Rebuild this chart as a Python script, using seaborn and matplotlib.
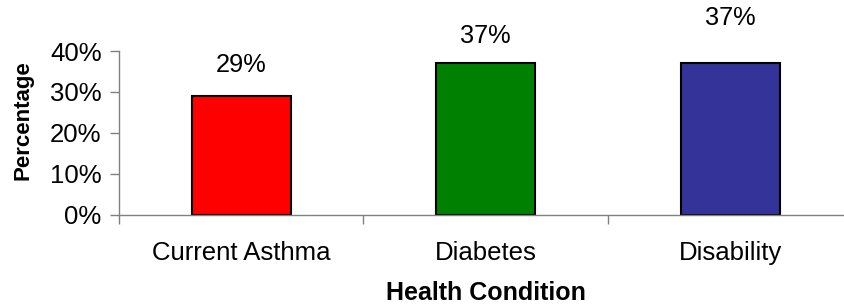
import numpy as np
import pandas as pd
import matplotlib
matplotlib.use("Agg")
import matplotlib.pyplot as plt
import seaborn as sns
from matplotlib.ticker import PercentFormatter, FixedLocator

# chart data
conditions = ["Current Asthma", "Diabetes", "Disability"]
percentages = [29, 37, 37]
bar_colors = ["#FF0000", "#008000", "#333399"]
yticks = [0, 10, 20, 30, 40]

sns.set_style("white")
plt.rcParams["font.family"] = ["Liberation Sans", "DejaVu Sans"]
plt.rcParams["text.color"] = "black"
plt.rcParams["xtick.color"] = "black"
plt.rcParams["ytick.color"] = "black"
plt.rcParams["axes.labelcolor"] = "black"

df = pd.DataFrame({"condition": conditions, "pct": percentages})

fig = plt.figure(figsize=(8.44, 3.07), dpi=100)
# the plot area runs past the right edge of the picture, as in the source
ax = fig.add_axes([0.141, 0.301, 0.869, 0.5326])

sns.barplot(data=df, x="condition", y="pct", hue="condition", order=conditions,
            palette=bar_colors, width=0.405, edgecolor="black", linewidth=1.5,
            legend=False, ax=ax, saturation=1)

ax.set_ylim(0, 40)
ax.set_xlim(-0.5, len(conditions) - 0.5)
ax.yaxis.set_major_locator(FixedLocator(yticks))
ax.yaxis.set_major_formatter(PercentFormatter(decimals=0))

# category boundary ticks like the original
ax.xaxis.set_minor_locator(FixedLocator(np.arange(-0.5, len(conditions), 1.0)))
ax.tick_params(axis="x", which="major", bottom=True, length=0, pad=19, labelsize=18.5)
ax.tick_params(axis="x", which="minor", bottom=True, length=6.3, width=1,
               color="#808080", direction="out")
ax.tick_params(axis="y", left=True, length=6.5, width=1, color="#808080",
               direction="out", labelsize=18.5, pad=6)

for side in ["top", "right"]:
    ax.spines[side].set_visible(False)
for side in ["left", "bottom"]:
    ax.spines[side].set_color("#808080")
    ax.spines[side].set_linewidth(1)

ax.set_xlabel("Health Condition", fontsize=18, fontweight="bold")
ax.set_ylabel("Percentage", fontsize=16, fontweight="bold")
ax.xaxis.set_label_coords((486 - 119) / (0.869 * 844), -0.405)
ax.yaxis.set_label_coords(-0.117, 0.578)

# value labels (last one sits higher, as in the source)
label_offsets = [22, 20, 33]
for i, (v, off) in enumerate(zip(percentages, label_offsets)):
    ax.annotate(f"{v}%", xy=(i, v), xytext=(0, off), textcoords="offset points",
                ha="center", va="center", fontsize=18.3, annotation_clip=False)

fig.savefig("out.png", dpi=100)
